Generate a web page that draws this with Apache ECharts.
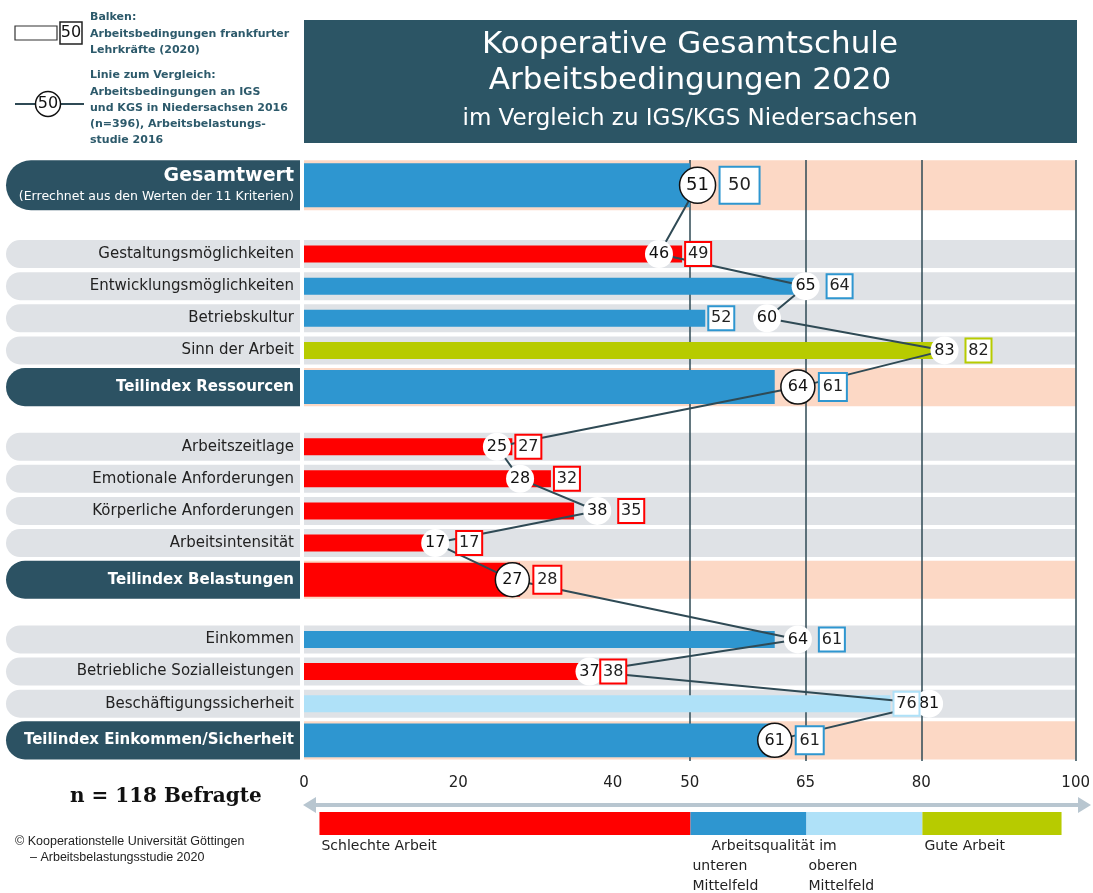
<!DOCTYPE html>
<html lang="de">
<head>
<meta charset="utf-8">
<title>Kooperative Gesamtschule – Arbeitsbedingungen 2020</title>
<script src="https://cdn.jsdelivr.net/npm/echarts@6/dist/echarts.min.js"></script>
<style>
  html, body { margin: 0; padding: 0; background: #fff; }
  #main { width: 1093px; height: 893px; }
</style>
</head>
<body>
<div id="main"></div>
<script>
// Zeilen des Diagramms ('' = Leerzeile zwischen den Blöcken)
const kategorien = [
  'Gesamtwert', '',
  'Gestaltungsmöglichkeiten', 'Entwicklungsmöglichkeiten', 'Betriebskultur', 'Sinn der Arbeit', 'Teilindex Ressourcen', '',
  'Arbeitszeitlage', 'Emotionale Anforderungen', 'Körperliche Anforderungen', 'Arbeitsintensität', 'Teilindex Belastungen', '',
  'Einkommen', 'Betriebliche Sozialleistungen', 'Beschäftigungssicherheit', 'Teilindex Einkommen/Sicherheit'
];
// Balken: Arbeitsbedingungen Frankfurter Lehrkräfte (2020)
const werte2020 = [50, null, 49, 64, 52, 82, 61, null, 27, 32, 35, 17, 28, null, 61, 38, 76, 61];
// Linie: IGS/KGS Niedersachsen 2016
const werte2016 = [51, null, 46, 65, 60, 83, 64, null, 25, 28, 38, 17, 27, null, 64, 37, 81, 61];
const achsenWerte = [0, 20, 40, 50, 65, 80, 100];
const grenzLinien = [50, 65, 80, 100];
// Farbskala unter der Achse
const zonen = [[2, 50], [50, 65], [65, 80], [80, 98]];
const zonenText = ['Schlechte Arbeit', '\nunteren\nMittelfeld', '\noberen\nMittelfeld', 'Gute Arbeit'];

const FARBEN = ['#ff0000', '#2e96d0', '#afe1f8', '#b7cb00'];
const DUNKEL = '#2c5263';
const LINIE = '#2f4a55';
const SCHRIFT = '"DejaVu Sans", sans-serif';
const LINKS = 6; // linker Rand der Beschriftungsfelder

// Höhen in Rastereinheiten der feinen Kategorienachse
const GROESSE = {
  normal: { halb: 3.5, band: 6.1, balken: 3.7, kreis: 28, box: [26, 24], font: 16, abstand: 7 },
  index:  { halb: 4.5, band: 8.3, balken: 7.4, kreis: 34, box: [28, 28], font: 16, abstand: 4 },
  gesamt: { halb: 6.5, band: 10.9, balken: 9.6, kreis: 36, box: [40, 37], font: 18, abstand: 4 }
};
const LUECKE = 5, RAND_OBEN = 5, RAND_UNTEN = 4;

function zeilenArt(name) {
  if (name === 'Gesamtwert') return 'gesamt';
  if (name.indexOf('Teilindex') === 0) return 'index';
  return 'normal';
}

function farbe(v) {
  for (let k = 0; k < zonen.length - 1; k++) {
    if (v < zonen[k][1]) return FARBEN[k];
  }
  return FARBEN[zonen.length - 1];
}

// Zeilen auf ein feines Raster legen, damit Teilindex-Zeilen höher sind
const rasterVon = [];
let pos = RAND_OBEN, vorher = null, luecke = false;
kategorien.forEach(function (name) {
  if (!name) { luecke = true; rasterVon.push(null); return; }
  const art = zeilenArt(name);
  if (vorher) pos += GROESSE[vorher].halb + (luecke ? LUECKE : 0) + GROESSE[art].halb;
  rasterVon.push(pos);
  vorher = art;
  luecke = false;
});
const rasterNamen = new Array(pos + 1 + RAND_UNTEN).fill('');
rasterVon.forEach(function (s, i) { if (s != null) rasterNamen[s] = kategorien[i]; });

// Hintergrundstreifen + dunkle Etiketten
function renderHintergrund(params, api) {
  const s = api.value(1), i = api.value(2);
  const art = zeilenArt(kategorien[i]);
  const g = GROESSE[art];
  const start = api.coord([0, s]);
  const ende = api.coord([100, s]);
  const h = api.size([0, 1])[1] * g.band;
  const y = start[1] - h / 2;
  return {
    type: 'group',
    children: [
      {
        type: 'rect',
        shape: { x: LINKS, y: y, width: start[0] - 4 - LINKS, height: h, r: [h / 2, 0, 0, h / 2] },
        style: { fill: art === 'normal' ? '#dfe2e6' : DUNKEL }
      },
      {
        type: 'rect',
        shape: { x: start[0], y: y, width: ende[0] - start[0], height: h },
        style: { fill: art === 'normal' ? '#dfe2e6' : '#fcd8c5' }
      }
    ]
  };
}

function renderBalken(params, api) {
  const v = api.value(0), s = api.value(1), i = api.value(2);
  const g = GROESSE[zeilenArt(kategorien[i])];
  const start = api.coord([0, s]);
  const ende = api.coord([v, s]);
  const h = api.size([0, 1])[1] * g.balken;
  return {
    type: 'rect',
    shape: { x: start[0], y: start[1] - h / 2, width: ende[0] - start[0], height: h },
    style: { fill: farbe(v) }
  };
}

// Kästchen mit dem Wert 2020, neben Balkenende oder Kreis
function renderKasten(params, api) {
  const v = api.value(0), s = api.value(1), i = api.value(2);
  const g = GROESSE[zeilenArt(kategorien[i])];
  const bw = g.box[0], bh = g.box[1];
  const r = g.kreis / 2;
  const balkenEnde = api.coord([v, s]);
  const kreis = api.coord([werte2016[i], s]);
  let x = balkenEnde[0] + 3;
  const tol = 6;
  if (kreis[0] - r + tol < x + bw && kreis[0] + r - tol > x) {
    x = Math.max(kreis[0] + r, balkenEnde[0]) + g.abstand;
  }
  const y = balkenEnde[1];
  return {
    type: 'group',
    children: [
      {
        type: 'rect',
        shape: { x: x, y: y - bh / 2, width: bw, height: bh },
        style: { fill: '#fff', stroke: farbe(v), lineWidth: 2 }
      },
      {
        type: 'text',
        style: {
          x: x + bw / 2, y: y, text: String(v), align: 'center', verticalAlign: 'middle',
          fontSize: g.font, fontFamily: SCHRIFT, fill: '#222'
        }
      }
    ]
  };
}

function renderSkala(params, api) {
  const a = api.value(0), b = api.value(1);
  const p1 = api.coord([a, 0]);
  const p2 = api.coord([b, 0]);
  const h = api.size([0, 1])[1];
  const k = params.dataIndex;
  const textStil = { fontSize: 14, lineHeight: 20, fontFamily: SCHRIFT, fill: '#222', align: 'left', verticalAlign: 'top' };
  const kinder = [
    {
      type: 'rect',
      shape: { x: p1[0], y: p1[1] - h / 2, width: p2[0] - p1[0], height: h },
      style: { fill: FARBEN[k] }
    },
    {
      type: 'text',
      style: Object.assign({ x: p1[0] + 2, y: p1[1] + h / 2 + 1, text: zonenText[k] }, textStil)
    }
  ];
  if (k === 1) {
    kinder.push({
      type: 'text',
      style: Object.assign({ x: p1[0] + 21, y: p1[1] + h / 2 + 1, text: 'Arbeitsqualität im' }, textStil)
    });
  }
  return { type: 'group', children: kinder };
}

const linienDaten = werte2016.map(function (v, i) {
  if (v == null) return null;
  const art = zeilenArt(kategorien[i]);
  const g = GROESSE[art];
  return {
    value: [v, rasterVon[i]],
    symbolSize: g.kreis,
    itemStyle: {
      color: '#fff',
      borderColor: art === 'normal' ? '#fff' : '#111',
      borderWidth: art === 'normal' ? 0 : 1.5
    },
    label: { fontSize: g.font }
  };
}).filter(Boolean);

const balkenDaten = werte2020.map(function (v, i) { return [v, rasterVon[i], i]; })
  .filter(function (d) { return d[0] != null; });
const zeilenDaten = kategorien.map(function (k, i) { return [100, rasterVon[i], i]; })
  .filter(function (d) { return d[1] != null; });

const legendeText = function (text, y) {
  return {
    type: 'text',
    style: { x: 90, y: y, text: text, fill: '#2d5a6b', font: 'bold 11px "DejaVu Sans", sans-serif', verticalAlign: 'middle' }
  };
};

var myChart = echarts.init(document.getElementById('main'));

myChart.setOption({
  animation: false,
  backgroundColor: '#fff',
  grid: [
    { left: 304, right: 16, top: 160, bottom: 132 },
    { left: 304, right: 16, top: 812, height: 23 }
  ],
  xAxis: [
    {
      type: 'value', min: 0, max: 100, gridIndex: 0,
      axisLine: { show: false }, axisTick: { show: false }, splitLine: { show: false },
      axisLabel: { customValues: achsenWerte, margin: 15, fontSize: 15, color: '#222', fontFamily: SCHRIFT }
    },
    { type: 'value', min: 0, max: 100, gridIndex: 1, show: false }
  ],
  yAxis: [
    {
      type: 'category', data: rasterNamen, inverse: true, gridIndex: 0, z: 10,
      axisLine: { show: false }, axisTick: { show: false }, splitLine: { show: false },
      axisLabel: {
        interval: 0, margin: 10, align: 'right',
        formatter: function (name) {
          if (!name) return '';
          const art = zeilenArt(name);
          if (art === 'gesamt') return '{gt|Gesamtwert}\n{sub|(Errechnet aus den Werten der 11 Kriterien)}';
          if (art === 'index') return '{idx|' + name + '}';
          return '{norm|' + name + '}';
        },
        rich: {
          norm: { fontSize: 15, color: '#222', fontFamily: SCHRIFT },
          idx: { fontSize: 15, fontWeight: 'bold', color: '#fff', fontFamily: SCHRIFT },
          gt: { fontSize: 19, fontWeight: 'bold', color: '#fff', fontFamily: SCHRIFT, lineHeight: 24, align: 'right' },
          sub: { fontSize: 12.5, color: '#fff', fontFamily: SCHRIFT, lineHeight: 18, align: 'right' }
        }
      }
    },
    { type: 'category', data: ['Skala'], gridIndex: 1, show: false }
  ],
  graphic: [
    // Titel
    { type: 'rect', shape: { x: 304, y: 20, width: 773, height: 123 }, style: { fill: '#2c5565' } },
    { type: 'text', style: { x: 690, y: 45, text: 'Kooperative Gesamtschule', align: 'center', verticalAlign: 'middle', fill: '#fff', font: '31px "DejaVu Sans", sans-serif' } },
    { type: 'text', style: { x: 690, y: 81, text: 'Arbeitsbedingungen 2020', align: 'center', verticalAlign: 'middle', fill: '#fff', font: '31px "DejaVu Sans", sans-serif' } },
    { type: 'text', style: { x: 690, y: 119, text: 'im Vergleich zu IGS/KGS Niedersachsen', align: 'center', verticalAlign: 'middle', fill: '#fff', font: '23px "DejaVu Sans", sans-serif' } },
    // Legende oben links
    { type: 'rect', shape: { x: 15, y: 26, width: 42, height: 14 }, style: { fill: '#fff', stroke: '#333', lineWidth: 1.2 } },
    { type: 'rect', shape: { x: 60, y: 22, width: 22, height: 22 }, style: { fill: '#fff', stroke: '#222', lineWidth: 1.5 } },
    { type: 'text', style: { x: 71, y: 33, text: '50', align: 'center', verticalAlign: 'middle', fill: '#111', font: '16px "DejaVu Sans", sans-serif' } },
    { type: 'line', shape: { x1: 15, y1: 104, x2: 84, y2: 104 }, style: { stroke: LINIE, lineWidth: 2 } },
    { type: 'circle', shape: { cx: 48, cy: 104, r: 12.5 }, style: { fill: '#fff', stroke: '#111', lineWidth: 1.5 } },
    { type: 'text', style: { x: 48, y: 104, text: '50', align: 'center', verticalAlign: 'middle', fill: '#111', font: '16px "DejaVu Sans", sans-serif' } },
    legendeText('Balken:', 17),
    legendeText('Arbeitsbedingungen frankfurter', 34),
    legendeText('Lehrkräfte (2020)', 50),
    legendeText('Linie zum Vergleich:', 75),
    legendeText('Arbeitsbedingungen an IGS', 92),
    legendeText('und KGS in Niedersachsen 2016', 108),
    legendeText('(n=396), Arbeitsbelastungs-', 124),
    legendeText('studie 2016', 140),
    // Pfeil über der Farbskala
    { type: 'line', shape: { x1: 312, y1: 805, x2: 1082, y2: 805 }, style: { stroke: '#b8c6d0', lineWidth: 4 } },
    { type: 'polygon', shape: { points: [[303, 805], [316, 797], [316, 813]] }, style: { fill: '#b8c6d0' } },
    { type: 'polygon', shape: { points: [[1091, 805], [1078, 797], [1078, 813]] }, style: { fill: '#b8c6d0' } },
    // Fußtexte
    { type: 'text', style: { x: 70, y: 797, text: 'n = 118 Befragte', verticalAlign: 'middle', fill: '#111', font: 'bold 20px "DejaVu Serif", serif' } },
    { type: 'text', style: { x: 15, y: 842, text: '© Kooperationstelle Universität Göttingen', verticalAlign: 'middle', fill: '#222', font: '12.5px "Liberation Sans", sans-serif' } },
    { type: 'text', style: { x: 30, y: 858, text: '– Arbeitsbelastungsstudie 2020', verticalAlign: 'middle', fill: '#222', font: '12.5px "Liberation Sans", sans-serif' } }
  ],
  series: [
    {
      name: 'Hintergrund',
      type: 'custom',
      z: 1,
      silent: true,
      clip: false,
      renderItem: renderHintergrund,
      encode: { x: 0, y: 1 },
      data: zeilenDaten,
      markLine: {
        z: 2,
        silent: true,
        symbol: ['none', 'none'],
        label: { show: false },
        lineStyle: { color: LINIE, width: 1.5, type: 'solid' },
        data: grenzLinien.map(function (v) { return { xAxis: v }; })
      }
    },
    {
      name: 'Frankfurter Lehrkräfte 2020',
      type: 'custom',
      z: 3,
      clip: false,
      renderItem: renderBalken,
      encode: { x: 0, y: 1 },
      data: balkenDaten
    },
    {
      name: 'IGS/KGS Niedersachsen 2016',
      type: 'line',
      z: 4,
      data: linienDaten,
      symbol: 'circle',
      lineStyle: { color: LINIE, width: 2 },
      label: {
        show: true, position: 'inside', color: '#111', fontFamily: SCHRIFT,
        formatter: function (p) { return p.value[0]; }
      }
    },
    {
      name: 'Werte 2020',
      type: 'custom',
      z: 5,
      clip: false,
      renderItem: renderKasten,
      encode: { x: 0, y: 1 },
      data: balkenDaten
    },
    {
      name: 'Skala',
      type: 'custom',
      xAxisIndex: 1,
      yAxisIndex: 1,
      clip: false,
      silent: true,
      renderItem: renderSkala,
      encode: { x: [0, 1], y: 2 },
      data: zonen.map(function (z) { return [z[0], z[1], 0]; })
    }
  ]
});
</script>
</body>
</html>
